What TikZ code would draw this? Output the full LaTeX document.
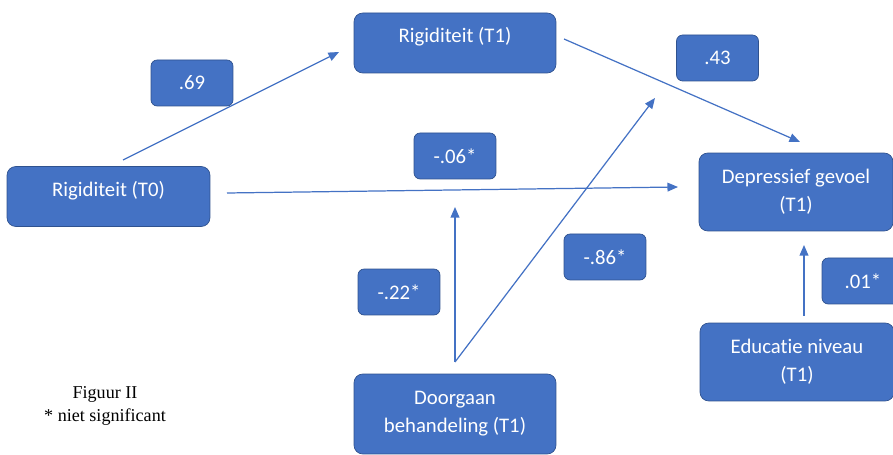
\documentclass[tikz,border=0pt]{standalone}
\usepackage{fontspec}
\setmainfont{Liberation Serif}
\setsansfont[Ligatures=NoCommon]{Carlito}
\usetikzlibrary{arrows.meta}
\definecolor{boxblue}{HTML}{4472C4}
\definecolor{boxedge}{HTML}{2F528F}
\tikzset{varbox/.style={draw=boxedge, fill=boxblue, text=white, rounded corners=5pt, inner sep=0pt, align=center, font=\sffamily\fontsize{11.8}{16}\selectfont}}
\tikzset{onerow/.style={text height=0.6cm, text depth=0.6cm}}
\tikzset{coefbox/.style={varbox, rounded corners=3.5pt, minimum width=1.64cm, minimum height=0.92cm}}
\tikzset{patharrow/.style={draw=boxblue, line width=0.7pt, -{Triangle[length=6pt,width=5pt]}}}

\begin{document}
\begin{tikzpicture}[x=0.02cm, y=-0.02cm]
\useasboundingbox (0,0) rectangle (893,455);
\node [varbox, onerow, minimum width=4.06cm] (rig0) at (108.5,196.5) {Rigiditeit (T0)};
\node [varbox, onerow, minimum width=4.04cm] (rig1) at (455,43) {Rigiditeit (T1)};
\node [varbox, minimum width=3.88cm, minimum height=1.56cm] (depr) at (796,192) {Depressief gevoel\\(T1)};
\node [varbox, minimum width=3.88cm, minimum height=1.56cm] (educ) at (797,362) {Educatie niveau\\(T1)};
\node [varbox, minimum width=4.04cm, minimum height=1.6cm] (door) at (455,414) {Doorgaan\\behandeling (T1)};
\node [coefbox] (c69) at (192,83) {.69};
\node [coefbox] (c43) at (717.5,58) {.43};
\node [coefbox] (c06) at (455,156) {-.06*};
\node [coefbox] (c22) at (399,292) {-.22*};
\node [coefbox] (c86) at (605,257) {-.86*};
\node [coefbox] (c01) at (863,281) {.01*};
\node [align=center, font=\fontsize{10.3}{13}\selectfont] (note) at (105,406) {Figuur II\\* niet significant};
% free ends of the paths
\coordinate (r0out) at (123,160);
\coordinate (r1in) at (339,52);
\coordinate (r0right) at (227,193);
\coordinate (dleft) at (678,187);
\coordinate (r1out) at (564,39);
\coordinate (dtop) at (800,142);
\coordinate (dooout) at (455,362);
\coordinate (midup) at (455,207);
\coordinate (slopeup) at (655,98);
\coordinate (eduout) at (804,316);
\coordinate (dbottom) at (804,245);
\draw [patharrow] (r0out) -- (r1in);
\draw [patharrow] (r0right) -- (dleft);
\draw [patharrow] (r1out) -- (dtop);
\draw [patharrow] (dooout) -- (midup);
\draw [patharrow] (dooout) -- (slopeup);
\draw [patharrow] (eduout) -- (dbottom);
\end{tikzpicture}
\end{document}
